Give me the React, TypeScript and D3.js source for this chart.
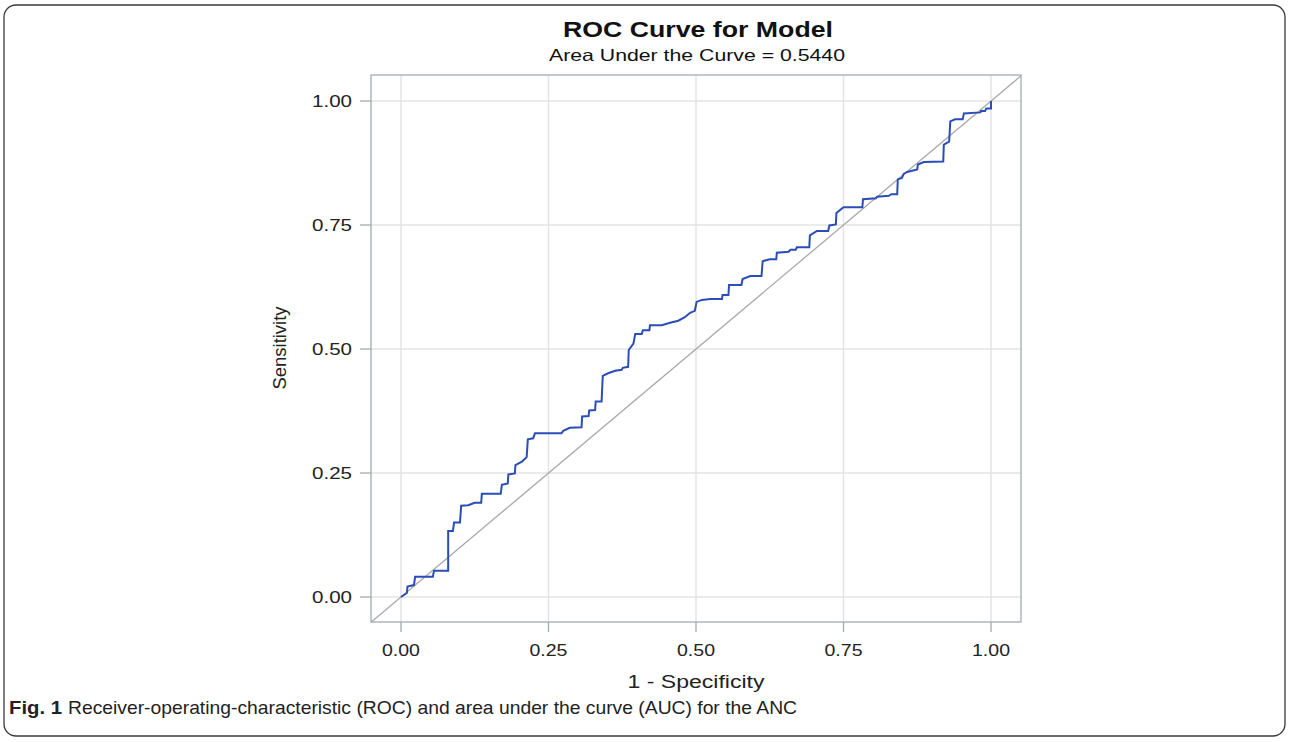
import React from "react";
import * as d3 from "d3";

// ROC curve vertices: 1 - Specificity (fpr) and Sensitivity (tpr)
const fpr = [
  0, 0.01, 0.011, 0.022, 0.024, 0.054, 0.056, 0.08, 0.08, 0.088, 0.09, 0.1, 0.102, 0.114, 0.125,
  0.136, 0.137, 0.169, 0.171, 0.181, 0.182, 0.193, 0.194, 0.205, 0.213, 0.215, 0.224, 0.227, 0.272,
  0.275, 0.286, 0.306, 0.307, 0.318, 0.319, 0.329, 0.33, 0.34, 0.342, 0.351, 0.363, 0.374, 0.376,
  0.385, 0.386, 0.394, 0.397, 0.408, 0.41, 0.421, 0.422, 0.442, 0.456, 0.47, 0.481, 0.49, 0.498,
  0.501, 0.51, 0.524, 0.544, 0.545, 0.555, 0.556, 0.577, 0.579, 0.592, 0.611, 0.613, 0.625, 0.636,
  0.637, 0.657, 0.66, 0.669, 0.671, 0.692, 0.693, 0.705, 0.724, 0.726, 0.737, 0.738, 0.75, 0.782,
  0.783, 0.805, 0.807, 0.827, 0.831, 0.841, 0.842, 0.849, 0.852, 0.858, 0.875, 0.876, 0.886, 0.919,
  0.92, 0.929, 0.931, 0.939, 0.952, 0.954, 0.982, 0.983, 0.99, 0.992, 1.0, 1.0,
];
const tpr = [
  0, 0.008, 0.021, 0.024, 0.041, 0.041, 0.053, 0.053, 0.133, 0.133, 0.15, 0.15, 0.184, 0.185, 0.19,
  0.19, 0.208, 0.208, 0.226, 0.229, 0.247, 0.249, 0.266, 0.273, 0.282, 0.318, 0.32, 0.33, 0.33,
  0.335, 0.341, 0.342, 0.364, 0.365, 0.376, 0.377, 0.394, 0.394, 0.446, 0.451, 0.456, 0.458, 0.462,
  0.464, 0.498, 0.511, 0.53, 0.53, 0.538, 0.538, 0.548, 0.548, 0.553, 0.557, 0.564, 0.573, 0.577,
  0.595, 0.599, 0.601, 0.601, 0.609, 0.609, 0.629, 0.629, 0.641, 0.647, 0.647, 0.677, 0.681, 0.681,
  0.694, 0.696, 0.7, 0.7, 0.705, 0.705, 0.729, 0.738, 0.738, 0.749, 0.751, 0.774, 0.786, 0.786,
  0.802, 0.804, 0.807, 0.809, 0.812, 0.812, 0.842, 0.845, 0.853, 0.857, 0.862, 0.872, 0.877, 0.878,
  0.912, 0.918, 0.959, 0.963, 0.963, 0.975, 0.977, 0.98, 0.98, 0.985, 0.985, 1.0,
];
const tickValues = [0, 0.25, 0.5, 0.75, 1.0];
const tickLabels = ["0.00", "0.25", "0.50", "0.75", "1.00"];
const titleText = "ROC Curve for Model";
const subtitleText = "Area Under the Curve = 0.5440";
const xLabel = "1 - Specificity";
const yLabel = "Sensitivity";
const captionBold = "Fig. 1";
const captionText =
  "Receiver-operating-characteristic (ROC) and area under the curve (AUC) for the ANC";

const FONT = "'Liberation Sans', Arial, sans-serif";

export default function App() {
  const left = 371, right = 1021, top = 75, bottom = 622;
  const x = d3.scaleLinear().domain([-0.0508, 1.0508]).range([left, right]);
  const y = d3.scaleLinear().domain([-0.0504, 1.0524]).range([bottom, top]);
  const pts: [number, number][] = fpr.map((f, i) => [f, tpr[i]]);
  const line = d3
    .line<[number, number]>()
    .x((d) => x(d[0]))
    .y((d) => y(d[1]));
  const gridColor = "#e4e4e4";
  const axisColor = "#a7abb0";

  return (
    <svg
      width={1290}
      height={742}
      style={{ position: "absolute", left: 0, top: 0, display: "block", background: "#fff" }}
    >
      <rect x={4} y={5} width={1281} height={731} rx={12} ry={12} fill="#fff" stroke="#3a3a3a" strokeWidth={1.3} />
      <text x={698} y={37} textAnchor="middle" fontFamily={FONT} fontWeight="bold" fontSize={21.5} textLength={270} lengthAdjust="spacingAndGlyphs" fill="#111">
        {titleText}
      </text>
      <text x={697} y={61} textAnchor="middle" fontFamily={FONT} fontSize={16.5} textLength={296} lengthAdjust="spacingAndGlyphs" fill="#111">
        {subtitleText}
      </text>

      {/* gridlines */}
      {tickValues.map((t) => (
        <g key={"g" + t}>
          <line x1={x(t)} x2={x(t)} y1={top} y2={bottom} stroke={gridColor} strokeWidth={1.5} />
          <line x1={left} x2={right} y1={y(t)} y2={y(t)} stroke={gridColor} strokeWidth={1.5} />
        </g>
      ))}

      {/* diagonal reference */}
      <line x1={x(-0.0508)} y1={y(-0.0508)} x2={x(1.0508)} y2={y(1.0508)} stroke="#a9a9a9" strokeWidth={1.3} />

      {/* ROC curve */}
      <path d={line(pts) || ""} fill="none" stroke="#2b4db6" strokeWidth={2} strokeLinejoin="miter" />

      {/* frame */}
      <rect x={left} y={top} width={right - left} height={bottom - top} fill="none" stroke={axisColor} strokeWidth={1.3} />

      {/* y ticks */}
      {tickValues.map((t, i) => (
        <g key={"y" + t}>
          <line x1={360} x2={left} y1={y(t)} y2={y(t)} stroke={axisColor} strokeWidth={1.3} />
          <text x={352} y={y(t)} dy="0.37em" textAnchor="end" fontFamily={FONT} fontSize={16.5} textLength={40} lengthAdjust="spacingAndGlyphs" fill="#222">
            {tickLabels[i]}
          </text>
        </g>
      ))}
      {/* x ticks */}
      {tickValues.map((t, i) => (
        <g key={"x" + t}>
          <line x1={x(t)} x2={x(t)} y1={bottom} y2={632} stroke={axisColor} strokeWidth={1.3} />
          <text x={x(t)} y={656} textAnchor="middle" fontFamily={FONT} fontSize={16.5} textLength={38} lengthAdjust="spacingAndGlyphs" fill="#222">
            {tickLabels[i]}
          </text>
        </g>
      ))}

      <text x={696} y={688} textAnchor="middle" fontFamily={FONT} fontSize={17.5} textLength={137} lengthAdjust="spacingAndGlyphs" fill="#222">
        {xLabel}
      </text>
      <text transform="translate(286,348) rotate(-90)" textAnchor="middle" fontFamily={FONT} fontSize={17.5} textLength={83} lengthAdjust="spacingAndGlyphs" fill="#222">
        {yLabel}
      </text>

      <text x={9} y={714} fontFamily={FONT} fontWeight="bold" fontSize={18.5} textLength={53} lengthAdjust="spacingAndGlyphs" fill="#222">
        {captionBold}
      </text>
      <text x={68} y={714} fontFamily={FONT} fontSize={18.5} textLength={729} lengthAdjust="spacingAndGlyphs" fill="#222">
        {captionText}
      </text>
    </svg>
  );
}
